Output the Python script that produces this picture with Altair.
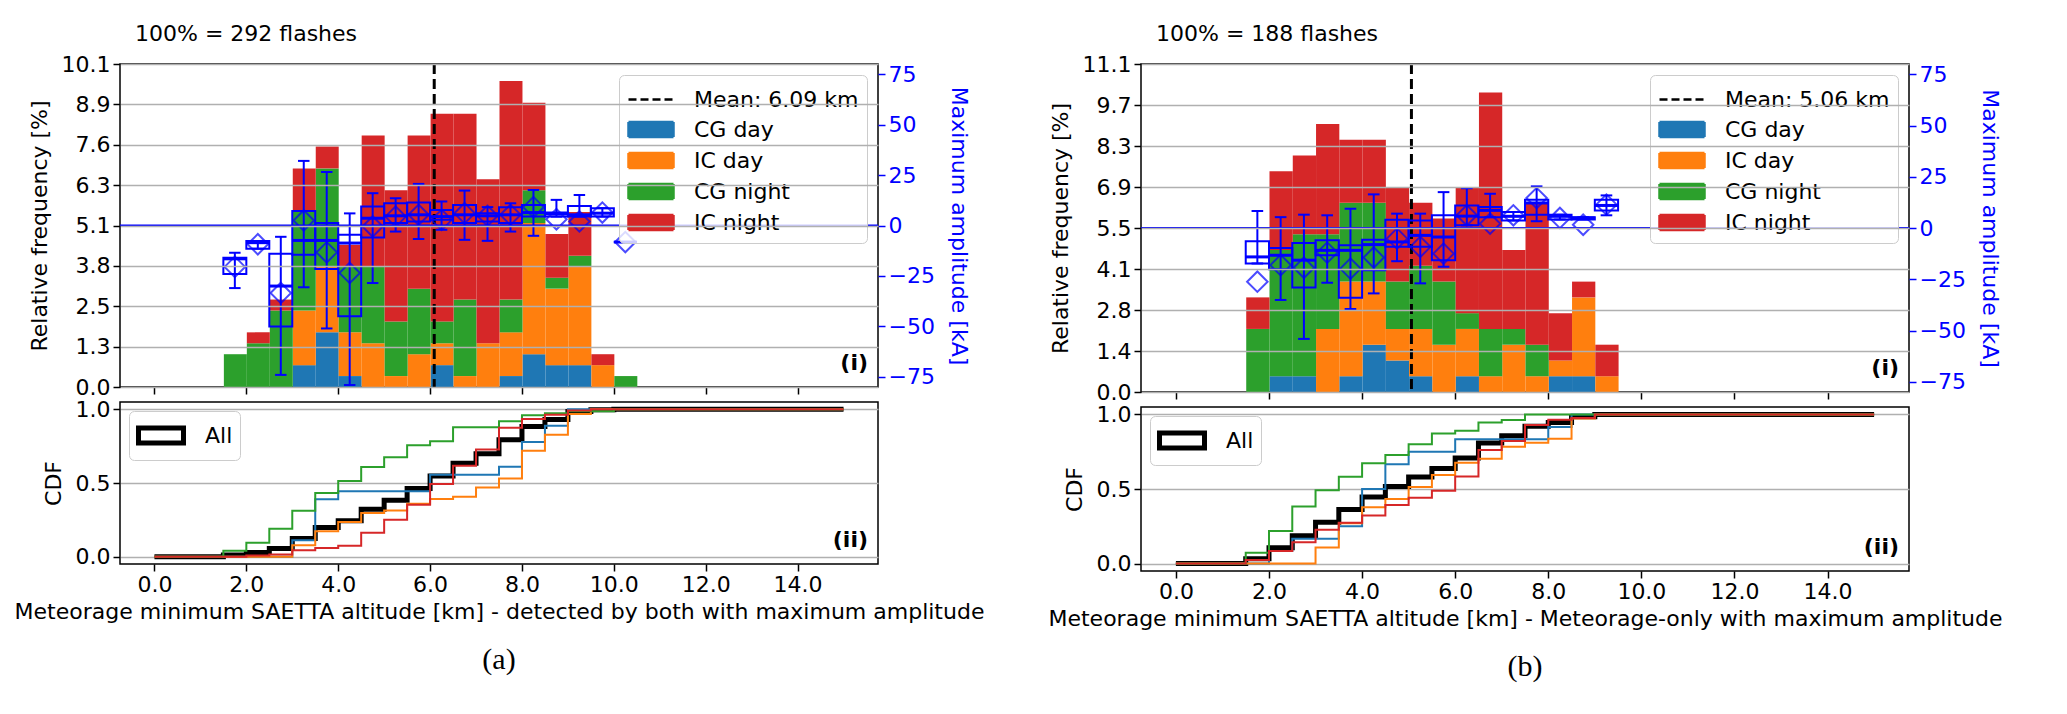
import altair as alt
import numpy as np
import pandas as pd

CATS = ["CG day", "IC day", "CG night", "IC night"]
COLORS = ["#1f77b4", "#ff7f0e", "#2ca02c", "#d62728"]
BLUE = "#0000ff"
GRID = "#b0b0b0"
FONT = "DejaVu Sans"
FS = 22
RECT = "M-1,-0.5H2V0.5H-1Z"   # wide legend patch
DASH = "M-1,0H2"              # legend line

BIN_W = 0.5   # km
BIN0 = 1.5    # first non-empty bin, km

# ---- (a) detected by both: flashes per 0.5 km bin, from 1.5 km
a_cg_day = [0, 0, 0, 2, 5, 1, 0, 0, 0, 2, 0, 0, 1, 3, 2, 2, 0, 0]
a_ic_day = [0, 0, 0, 5, 6, 4, 4, 1, 3, 2, 1, 4, 4, 12, 7, 9, 2, 0]
a_cg_night = [3, 4, 7, 9, 9, 6, 7, 5, 6, 2, 7, 0, 3, 3, 1, 1, 0, 1]
a_ic_night = [0, 1, 1, 4, 2, 2, 12, 12, 14, 19, 17, 15, 20, 8, 4, 4, 1, 0]
a_mean = 6.09
a_ymax = 10.12
# maximum amplitude per bin [kA]
a_wlo = [-31, -11.5, -74, -30.6, -51, -79, -28.5, -3, -6.7, -2.1, -7.1, -7.6, -3, -5.1, 4.4, 4.4, 4.4, -8.2]
a_q1 = [-24, -11.5, -50, -14.5, -21.6, -45, -5.9, 1.2, 2, 2.8, 1.2, 2, 1.2, 4.4, 4.4, 4.4, 4.4, -8.2]
a_med = [-16.5, -8.5, -30, -7.4, -7.4, -8.7, 3.6, 4.8, 5.3, 4.4, 5.3, 4.8, 5.3, 6.4, 5.8, 5.3, 6.1, -8.2]
a_q3 = [-16, -7.7, -14, 7.2, 1.2, -4.6, 9.4, 11, 11.4, 7.7, 10.2, 6.1, 9.1, 10.2, 6.4, 9.7, 8.6, -8.2]
a_whi = [-13.5, -7.7, -5.6, 32, 26.5, 6, 16, 13.5, 20.6, 11.9, 17.3, 9.1, 11, 17.6, 12.7, 15.1, 8.6, -8.2]
a_avg = [-20.5, -9.3, -33.4, 2.5, -13.3, -23.5, -0.5, 4.4, 5.3, 2.8, 6.1, 4.8, 5.3, 9.1, 3.1, 2.0, 6.4, -8.2]

# ---- (b) Meteorage-only
b_cg_day = [0, 1, 1, 0, 1, 3, 2, 1, 0, 1, 0, 0, 0, 1, 1, 0]
b_ic_day = [0, 0, 0, 4, 6, 4, 2, 3, 3, 3, 1, 3, 1, 1, 5, 1]
b_cg_night = [4, 8, 9, 6, 5, 5, 3, 4, 4, 1, 3, 1, 2, 0, 0, 0]
b_ic_night = [2, 5, 5, 7, 4, 4, 6, 4, 4, 8, 15, 5, 9, 3, 1, 2]
b_mean = 5.06
b_ymax = 11.064
b_wlo = [-17.3, -35.1, -54.1, -26.7, -39.5, -31.9, -16.2, -27, -18.9, 1.3, 5.3, 3.7, 3.3, 4.1, 4.1, 6.2]
b_q1 = [-17.3, -20.1, -29, -13.3, -34, -20.6, -9.2, -9.2, -15.7, 1.3, 5.3, 3.7, 6.5, 4.1, 4.1, 8.5]
b_med = [-14.1, -13.3, -15.7, -10.9, -10.9, -8.1, -6.8, -3.6, -4.4, 5.8, 8.6, 5.7, 12.2, 5.7, 4.9, 11]
b_q3 = [-6.5, -9.7, -7.3, -6, -8.4, -5.7, 4, 3.7, 6.2, 11, 10.2, 7.8, 13.8, 6.5, 5.2, 13.8]
b_whi = [8.3, 5.3, 6.5, 6.2, 9.4, 16.4, 7, 7, 17.5, 19.4, 16.7, 7.8, 20.3, 6.5, 5.2, 15.9]
b_avg = [-26.2, -18.1, -19.4, -12, -19.8, -14.4, -5.2, -9.2, -12.5, 6.2, 2.1, 6.2, 14.6, 4.9, 1.6, 11.4]

X_TICKS = list(range(0, 15, 2))
INDEP = dict(color="independent", fill="independent", stroke="independent",
             shape="independent", strokeDash="independent")


def legend_box(**kw):
    return alt.Legend(title=None, symbolSize=900, labelOffset=34, labelFontSize=FS,
                      labelLimit=400, fillColor="rgba(255,255,255,0.8)",
                      strokeColor="#cccccc", cornerRadius=5, **kw)


def panel(counts, mean, box, ymax, w, h, h_cdf, xtitle, caption):
    n_total = int(sum(sum(v) for v in counts.values()))
    nb = len(counts[CATS[0]])
    x_scale = alt.Scale(domain=[-0.75, 15.75], nice=False, zero=False)
    x_axis = alt.Axis(values=X_TICKS, labels=False, title=None, grid=False)

    # stacked histogram, percent of all flashes
    rows = []
    for j, cat in enumerate(CATS):
        for k, c in enumerate(counts[cat]):
            x0 = BIN0 + k * BIN_W
            rows.append({"x0": x0, "x1": x0 + BIN_W, "label": cat, "ord": j,
                         "pct": 100.0 * c / n_total})
    bars_df = pd.DataFrame(rows)

    y_scale = alt.Scale(domain=[0, ymax], nice=False, zero=False)
    y_axis = alt.Axis(values=[ymax * i / 8 for i in range(9)], format=".1f",
                      title="Relative frequency [%]", grid=True, gridColor=GRID,
                      gridWidth=1.5, zindex=1, titlePadding=10)
    bars = alt.Chart(bars_df).mark_bar(binSpacing=0).encode(
        x=alt.X("x0:Q", bin="binned", scale=x_scale, axis=x_axis),
        x2="x1:Q",
        y=alt.Y("pct:Q", stack="zero", scale=y_scale, axis=y_axis),
        color=alt.Color("label:N", scale=alt.Scale(domain=CATS, range=COLORS), legend=None),
        order=alt.Order("ord:Q"),
    )
    mean_rule = alt.Chart(pd.DataFrame({"x": [mean]})).mark_rule(
        color="black", strokeWidth=3, strokeDash=[10, 5]
    ).encode(x=alt.X("x:Q", scale=x_scale, axis=x_axis))

    # legend only: points kept outside the plot
    leg_labels = [f"Mean: {mean:.2f} km"] + CATS
    leg = legend_box(orient="top-right", offset=11, padding=8, rowPadding=2,
                     symbolStrokeWidth=2.5)
    leg_df = pd.DataFrame({"label": leg_labels, "x": mean, "y": -1.0})
    dummy = alt.Chart(leg_df).mark_point(clip=True, opacity=1).encode(
        x=alt.X("x:Q", scale=x_scale, axis=x_axis),
        y=alt.Y("y:Q", scale=y_scale, axis=y_axis),
        fill=alt.Fill("label:N", scale=alt.Scale(domain=leg_labels, range=["transparent"] + COLORS), legend=leg),
        stroke=alt.Stroke("label:N", scale=alt.Scale(domain=leg_labels, range=["black"] + COLORS), legend=leg),
        shape=alt.Shape("label:N", scale=alt.Scale(domain=leg_labels, range=[DASH] + [RECT] * 4), legend=leg),
        strokeDash=alt.StrokeDash("label:N", scale=alt.Scale(domain=leg_labels, range=[[8, 4]] + [[1, 0]] * 4), legend=leg),
    )
    tag = alt.Chart(pd.DataFrame({"t": ["(i)"]})).mark_text(
        fontWeight="bold", fontSize=FS, align="right", baseline="bottom"
    ).encode(text="t:N", x=alt.value(w - 10), y=alt.value(h - 12))
    hist = alt.layer(bars, mean_rule, dummy, tag)

    # amplitude box plots on the right axis
    wlo, q1, med, q3, whi, avg = box
    c = BIN0 + BIN_W * (np.arange(len(med)) + 0.5)
    box_df = pd.DataFrame({"c": c, "bl": c - BIN_W / 2, "br": c + BIN_W / 2,
                           "cl": c - BIN_W / 4, "cr": c + BIN_W / 4,
                           "wlo": wlo, "q1": q1, "med": med, "q3": q3, "whi": whi, "avg": avg})
    a_scale = alt.Scale(domain=[-80, 80], nice=False, zero=False)
    a_axis = alt.Axis(orient="right", values=[-75, -50, -25, 0, 25, 50, 75],
                      title="Maximum amplitude [kA]", labelColor=BLUE, tickColor=BLUE,
                      titleColor=BLUE, grid=False, titlePadding=12)

    def xq(f):
        return alt.X(f, scale=x_scale, axis=x_axis)

    def yq(f):
        return alt.Y(f, scale=a_scale, axis=a_axis)

    base = alt.Chart(box_df)
    zero = alt.Chart(pd.DataFrame({"z": [0]})).mark_rule(color=BLUE, strokeWidth=2).encode(y=yq("z:Q"))
    whisk = base.mark_rule(color=BLUE, strokeWidth=2).encode(x=xq("c:Q"), y=yq("wlo:Q"), y2="whi:Q")
    cap_lo = base.mark_rule(color=BLUE, strokeWidth=2).encode(x=xq("cl:Q"), x2="cr:Q", y=yq("wlo:Q"))
    cap_hi = base.mark_rule(color=BLUE, strokeWidth=2).encode(x=xq("cl:Q"), x2="cr:Q", y=yq("whi:Q"))
    boxes = base.mark_rect(filled=False, color=BLUE, strokeWidth=2).encode(
        x=xq("bl:Q"), x2="br:Q", y=yq("q1:Q"), y2="q3:Q")
    medians = base.mark_rule(color=BLUE, strokeWidth=3).encode(x=xq("bl:Q"), x2="br:Q", y=yq("med:Q"))
    means = base.mark_point(shape="diamond", filled=False, color=BLUE, size=420, strokeWidth=2).encode(
        x=xq("c:Q"), y=yq("avg:Q"))
    amp = alt.layer(zero, whisk, cap_lo, cap_hi, boxes, medians, means)

    top = alt.layer(hist, amp).resolve_scale(y="independent").properties(
        width=w, height=h,
        title=alt.TitleParams(f"100% = {n_total} flashes", anchor="start", frame="group", dx=15,
                              fontSize=FS, fontWeight="normal", offset=7),
    )

    # cumulative distributions
    nfull = int(round(15 / BIN_W))
    k0 = int(round(BIN0 / BIN_W))
    series = [("All", np.sum([counts[cc] for cc in CATS], axis=0))] + \
             [(cc, np.array(counts[cc])) for cc in CATS]
    cdf_rows = []
    for lab, arr in series:
        full = np.zeros(nfull)
        full[k0:k0 + nb] = arr
        cum = np.cumsum(full) / full.sum()
        for k in range(nfull):
            cdf_rows.append({"label": lab, "x": k * BIN_W, "cdf": cum[k]})
        cdf_rows.append({"label": lab, "x": 15.0, "cdf": 1.0})
    cdf_df = pd.DataFrame(cdf_rows)

    cdf_labels = ["All"] + CATS
    cdf_color = alt.Scale(domain=cdf_labels, range=["black"] + COLORS)
    cdf_leg = legend_box(values=["All"], orient="top-left", offset=9, padding=7,
                         symbolType=RECT, symbolStrokeWidth=5, symbolFillColor="transparent")
    cdf_y = alt.Scale(domain=[-0.05, 1.05], nice=False, zero=False)
    cdf_yaxis = alt.Axis(values=[0, 0.5, 1.0], format=".1f", title="CDF", grid=True,
                         gridColor=GRID, gridWidth=1.5, titlePadding=10)
    cdf_xaxis = alt.Axis(values=X_TICKS, format=".1f", title=xtitle, grid=False, titlePadding=6)

    def cdf_line(df, sw):
        return alt.Chart(df).mark_line(interpolate="step-after", strokeWidth=sw).encode(
            x=alt.X("x:Q", scale=x_scale, axis=cdf_xaxis),
            y=alt.Y("cdf:Q", scale=cdf_y, axis=cdf_yaxis),
            color=alt.Color("label:N", scale=cdf_color, legend=cdf_leg),
        )

    all_line = cdf_line(cdf_df[cdf_df.label == "All"], 5)
    cat_lines = cdf_line(cdf_df[cdf_df.label != "All"], 2)
    tag2 = alt.Chart(pd.DataFrame({"t": ["(ii)"]})).mark_text(
        fontWeight="bold", fontSize=FS, align="right", baseline="bottom"
    ).encode(text="t:N", x=alt.value(w - 10), y=alt.value(h_cdf - 12))
    cdf = alt.layer(all_line, cat_lines, tag2).properties(width=w, height=h_cdf)

    return alt.vconcat(top, cdf, spacing=15, bounds="flush").resolve_scale(**INDEP).properties(
        title=alt.TitleParams(caption, orient="bottom", anchor="middle", font="Liberation Serif",
                              fontSize=30, fontWeight="normal", offset=22))


left = panel({"CG day": a_cg_day, "IC day": a_ic_day, "CG night": a_cg_night, "IC night": a_ic_night},
             a_mean, (a_wlo, a_q1, a_med, a_q3, a_whi, a_avg), a_ymax, 758, 323, 162,
             "Meteorage minimum SAETTA altitude [km] - detected by both with maximum amplitude", "(a)")
right = panel({"CG day": b_cg_day, "IC day": b_ic_day, "CG night": b_cg_night, "IC night": b_ic_night},
              b_mean, (b_wlo, b_q1, b_med, b_q3, b_whi, b_avg), b_ymax, 768, 328, 164,
              "Meteorage minimum SAETTA altitude [km] - Meteorage-only with maximum amplitude", "(b)")

chart = alt.hconcat(left, right, spacing=62).resolve_scale(**INDEP).configure(
    font=FONT, padding={"left": 5, "top": 14, "right": 5, "bottom": 5}
).configure_view(
    stroke="black", strokeWidth=1.5
).configure_axis(
    labelFontSize=FS, titleFontSize=FS, titleFontWeight="normal", labelFont=FONT, titleFont=FONT,
    domain=False, tickSize=7, tickWidth=1.5, tickColor="black", labelColor="black",
    titleColor="black", labelPadding=3
).configure_legend(labelFont=FONT).configure_title(font=FONT)

chart.save("out.html", embed_options={"renderer": "svg", "actions": False})
